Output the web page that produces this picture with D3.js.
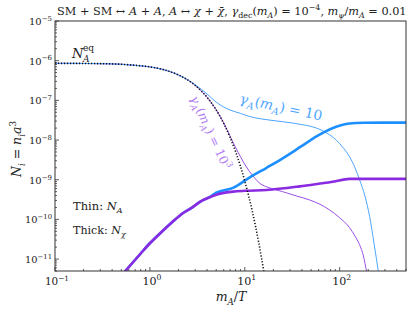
<!DOCTYPE html>
<html><head><meta charset="utf-8">
<script src="https://cdn.jsdelivr.net/npm/d3@7"></script>
<style>
body{margin:0;background:#fff}
svg{display:block}
text{font-family:"DejaVu Serif","Liberation Serif",serif;fill:#222}
</style></head>
<body><svg id="c" width="413" height="310"></svg>
<script>
// ---------- data ----------
const xEq   = [0.1, 0.2, 0.3, 0.5, 0.7, 1, 1.5, 2, 2.5, 3, 3.5, 4, 5, 6, 7, 8, 10, 12, 14, 16];
const nEq   = [8.58e-7, 8.51e-7, 8.41e-7, 8.12e-7, 7.63e-7, 6.98e-7, 5.65e-7, 4.37e-7, 3.27e-7, 2.38e-7, 1.70e-7, 1.20e-7, 5.71e-8, 2.62e-8, 1.17e-8, 5.10e-9, 9.25e-10, 1.60e-10, 2.67e-11, 4.34e-12];

// thin blue: N_A for gamma_A(m_A)=10
const xThinBlue = [0.1, 0.2, 0.3, 0.5, 0.7, 1, 1.5, 2, 2.5, 3, 3.5, 4, 5, 6, 7, 9, 11.3, 15, 25, 40, 57, 75, 92, 110, 127, 145, 162, 185, 207, 230, 257];
const nThinBlue = [8.58e-7, 8.51e-7, 8.41e-7, 8.12e-7, 7.63e-7, 6.98e-7, 5.65e-7, 4.37e-7, 3.3e-7, 2.48e-7, 1.88e-7, 1.45e-7, 9.0e-8, 6.8e-8, 5.7e-8, 4.7e-8, 3.9e-8, 3.4e-8, 2.9e-8, 2.45e-8, 2.0e-8, 1.45e-8, 1.0e-8, 6.2e-9, 3.8e-9, 2.0e-9, 1.0e-9, 3.8e-10, 1.17e-10, 2.5e-11, 4.5e-12];

// thin purple: N_A for gamma_A(m_A)=10^3
const xThinPurple = [0.1, 0.2, 0.3, 0.5, 0.7, 1, 1.5, 2, 2.5, 3, 3.5, 4, 5, 6, 7, 8, 9, 10.4, 12, 14.4, 18, 25, 35, 48, 62, 78, 100, 127, 145, 162, 178, 192, 200];
const nThinPurple = [8.58e-7, 8.51e-7, 8.41e-7, 8.12e-7, 7.63e-7, 6.98e-7, 5.65e-7, 4.37e-7, 3.27e-7, 2.38e-7, 1.70e-7, 1.20e-7, 5.75e-8, 2.7e-8, 1.25e-8, 6.5e-9, 3.8e-9, 2.1e-9, 1.3e-9, 8.1e-10, 6.3e-10, 5.0e-10, 3.9e-10, 3.1e-10, 2.4e-10, 1.74e-10, 1.1e-10, 6.2e-11, 3.8e-11, 2.3e-11, 1.2e-11, 5e-12, 3.5e-12];

// thick blue: N_chi for gamma_A(m_A)=10
const xThickBlue = [0.5, 0.6, 0.8, 1, 1.3, 1.7, 2.2, 2.8, 3.4, 4.3, 5, 7.5, 11.3, 17, 25.3, 40, 57, 85, 127, 180, 286, 500];
const nThickBlue = [3.8e-12, 6.3e-12, 1.38e-11, 2.5e-11, 4.6e-11, 8.3e-11, 1.41e-10, 2.0e-10, 2.8e-10, 3.7e-10, 4.7e-10, 6.2e-10, 1.15e-9, 2.0e-9, 3.5e-9, 7.1e-9, 1.23e-8, 2.0e-8, 2.6e-8, 2.72e-8, 2.75e-8, 2.75e-8];

// thick purple: N_chi for gamma_A(m_A)=10^3
const xThickPurple = [0.5, 0.6, 0.8, 1, 1.3, 1.7, 2.2, 2.8, 3.4, 4.2, 5, 7.5, 10, 16.9, 38, 60, 85, 127, 162, 300, 500];
const nThickPurple = [3.8e-12, 6.3e-12, 1.38e-11, 2.5e-11, 4.6e-11, 8.3e-11, 1.41e-10, 2.0e-10, 2.8e-10, 3.55e-10, 4.2e-10, 5.0e-10, 5.25e-10, 5.5e-10, 6.8e-10, 7.9e-10, 8.9e-10, 1.05e-9, 1.05e-9, 1.05e-9, 1.05e-9];

const xTickExps = [-1, 0, 1, 2];
const yTickExps = [-11, -10, -9, -8, -7, -6, -5];
const xDomain = [0.1, 500];
const yDomain = [5e-12, 1e-5];

// ---------- layout ----------
const L = 55, R = 406, T = 21, B = 271;
const svg = d3.select("#c");
const x = d3.scaleLog().domain(xDomain).range([L, R]);
const y = d3.scaleLog().domain(yDomain).range([B, T]);

svg.append("defs").append("clipPath").attr("id","clip")
  .append("rect").attr("x",L).attr("y",T).attr("width",R-L).attr("height",B-T);

// rich text helper
function rich(sel, parts, fs){
  let cur = 0;
  sel.attr("data-fs", fs);
  parts.forEach(p => {
    const [s, st] = p;
    let off = 0, rel = 1, it = false;
    if (st.includes("i")) it = true;
    if (st.includes("sub")) { off = 0.28; rel = 0.7; }
    if (st.includes("sup")) { off = -0.42; rel = 0.7; }
    const t = sel.append("tspan").text(s).attr("font-size", rel*fs).attr("dy", (off - cur)*fs)
      .attr("data-rel", rel).attr("data-off", off);
    if (it) t.attr("font-style","italic");
    cur = off;
  });
  return sel;
}
function refit(sel, fs){
  let cur = 0;
  sel.selectAll("tspan").each(function(){
    const t = d3.select(this), rel=+t.attr("data-rel"), off=+t.attr("data-off");
    t.attr("font-size", rel*fs).attr("dy",(off-cur)*fs); cur=off;
  });
}
function fitWidth(sel, target){
  const fs = +sel.attr("data-fs");
  const w = sel.node().getBBox().width;
  if (w>0) refit(sel, fs*target/w);
  return sel;
}

// ticks
const g = svg.append("g");
function minorVals(dom){
  const out=[];
  for(let e=-13;e<=4;e++) for(let k=1;k<=9;k++){const v=k*Math.pow(10,e); if(v>=dom[0]*0.999 && v<=dom[1]*1.001) out.push({v, major:k===1});}
  return out;
}
minorVals(xDomain).forEach(d=>{
  const px=x(d.v), len=d.major?4:2;
  g.append("line").attr("x1",px).attr("x2",px).attr("y1",B).attr("y2",B-len).attr("stroke","#333").attr("stroke-width",0.8);
});
minorVals(yDomain).forEach(d=>{
  const py=y(d.v), len=d.major?4:2;
  g.append("line").attr("x1",L).attr("x2",L+len).attr("y1",py).attr("y2",py).attr("stroke","#333").attr("stroke-width",0.8);
});

// tick labels
xTickExps.forEach(e=>{
  const t = svg.append("text").attr("x", x(Math.pow(10,e))+2).attr("y", 285).attr("text-anchor","middle");
  fitWidth(rich(t, [["10",""],[e<0?"\u2212"+(-e):String(e),"sup"]], 12), e<0?24:19);
});
yTickExps.forEach(e=>{
  const t = svg.append("text").attr("x", 52).attr("y", y(Math.pow(10,e))+4).attr("text-anchor","end");
  fitWidth(rich(t, [["10",""],["\u2212"+(-e),"sup"]], 12), -e>=10?27:23);
});

// lines
const line = d3.line().x(d=>x(d[0])).y(d=>y(d[1])).curve(d3.curveMonotoneX);
const plot = svg.append("g").attr("clip-path","url(#clip)");
function draw(xs, ns, color, w, extra){
  const p = plot.append("path").datum(xs.map((v,i)=>[v, ns[i]])).attr("d", line)
    .attr("fill","none").attr("stroke",color).attr("stroke-width",w).attr("stroke-linejoin","round");
  if(extra) extra(p);
  return p;
}
draw(xThinPurple, nThinPurple, "#9b4fe6", 1.0);
draw(xThinBlue, nThinBlue, "#4da6ff", 1.0);
draw(xThickBlue, nThickBlue, "#1e8fff", 2.6);
draw(xThickPurple, nThickPurple, "#8a2be2", 2.6);
draw(xEq, nEq, "#111", 1.6, p=>p.attr("stroke-dasharray","1.2,1.8"));

// frame
svg.append("rect").attr("x",L).attr("y",T).attr("width",R-L).attr("height",B-T)
  .attr("fill","none").attr("stroke","#333").attr("stroke-width",1);

// title
fitWidth(rich(svg.append("text").attr("x",57).attr("y",15),
  [["SM + SM \u2194 ",""],["A","i"],[" + ",""],["A","i"],[", ",""],["A","i"],[" \u2194 ",""],["\u03c7","i"],[" + ",""],["\u03c7\u0304","i"],[", ",""],
   ["\u03b3","i"],["dec","sub"],["(",""],["m","i"],["A","isub"],[") = 10",""],["\u22124","sup"],[", ",""],["m","i"],["\u03c8","isub"],["/",""],["m","i"],["A","isub"],[" = 0.01",""]], 12), 350);

// axis labels
rich(svg.append("text").attr("x",231).attr("y",301).attr("text-anchor","middle"),
  [["m","i"],["A","isub"],["/",""],["T","i"]], 12.5);
rich(svg.append("text").attr("transform","translate(21,149) rotate(-90)").attr("text-anchor","middle"),
  [["N","i"],["i","isub"],[" = ",""],["n","i"],["i","isub"],["a","i"],["3","sup"]], 12.5);

// N_A^eq label
const eqT = svg.append("text").attr("x",72).attr("y",58).attr("font-size",13);
eqT.append("tspan").text("N").attr("font-style","italic");
eqT.append("tspan").text("eq").attr("font-size",9).attr("x",83).attr("dy",-7);
eqT.append("tspan").text("A").attr("font-size",9).attr("font-style","italic").attr("x",83).attr("dy",11);

// legend texts
fitWidth(rich(svg.append("text").attr("x",73).attr("y",210), [["Thin: ",""],["N","i"],["A","isub"]], 11), 50);
fitWidth(rich(svg.append("text").attr("x",73).attr("y",234), [["Thick: ",""],["N","i"],["\u03c7","isub"]], 11), 54);

// curve labels
fitWidth(rich(svg.append("text").attr("transform","translate(239,103) rotate(12)").style("fill","#4da6ff"),
  [["\u03b3","i"],["A","isub"],["(",""],["m","i"],["A","isub"],[") = 10",""]], 13), 84);
fitWidth(rich(svg.append("text").attr("transform","translate(190,98) rotate(65)").style("fill","#b27ef0"),
  [["\u03b3","i"],["A","isub"],["(",""],["m","i"],["A","isub"],[") = 10",""],["3","sup"]], 13), 80);
</script>
</body></html>
